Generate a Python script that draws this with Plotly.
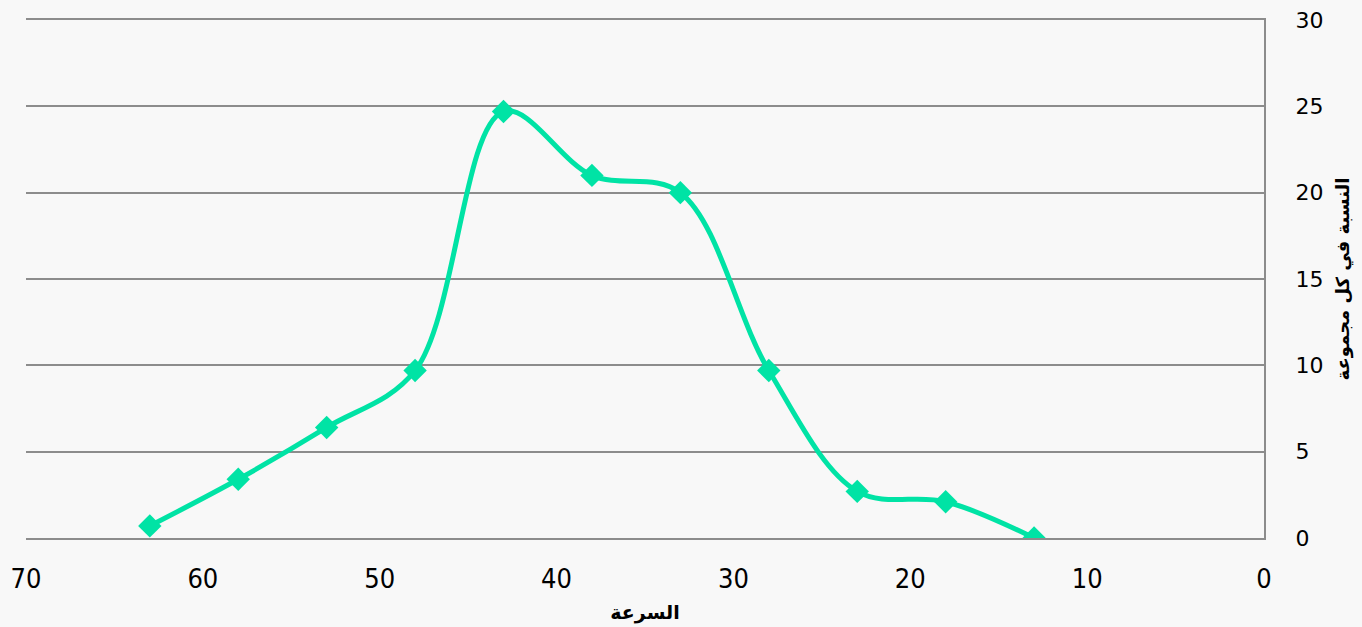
import plotly.graph_objects as go

speed = [63, 58, 53, 48, 43, 38, 33, 28, 23, 18, 13]
percent = [0.7, 3.4, 6.4, 9.7, 24.7, 21.0, 20.0, 9.7, 2.7, 2.1, 0.0]
x_title = "السرعة"
y_title = "النسبة في كل مجموعة"

line_color = "#00E3A5"
grid_color = "#8C8C8C"

fig = go.Figure()
fig.add_trace(go.Scatter(
    x=speed, y=percent, mode="lines+markers",
    line=dict(color=line_color, width=5, shape="spline", smoothing=1.0),
    marker=dict(symbol="diamond", size=18, color=line_color),
    showlegend=False, hoverinfo="x+y",
))

fig.update_layout(
    width=1362, height=627,
    margin=dict(l=26, r=98, t=20, b=89),
    paper_bgcolor="#F8F8F8", plot_bgcolor="#F8F8F8",
    font=dict(family="DejaVu Sans", color="#000000"),
)
fig.update_xaxes(
    range=[70, 0], dtick=10, tick0=0, automargin=False,
    showgrid=False, zeroline=False,
    showline=True, linecolor=grid_color, linewidth=2, mirror=True,
    ticks="", ticklabelstandoff=16,
    tickfont=dict(family="Liberation Sans Narrow, DejaVu Sans Condensed", size=27),
    title=dict(text=x_title, font=dict(family="DejaVu Sans", size=19, weight="bold"), standoff=12),
)
fig.update_yaxes(
    side="right", range=[0, 30], dtick=5, tick0=0, automargin=False,
    showgrid=True, gridcolor=grid_color, gridwidth=2, zeroline=False,
    showline=True, linecolor=grid_color, linewidth=2,
    ticks="", ticklabelstandoff=25,
    tickfont=dict(family="DejaVu Sans", size=22),
    title=dict(text=y_title, font=dict(family="DejaVu Sans", size=18, weight="bold"), standoff=14),
)

fig.write_html("out.html", config={"displayModeBar": False},
               post_script="document.body.style.margin='0';document.body.style.background='#F8F8F8';")
